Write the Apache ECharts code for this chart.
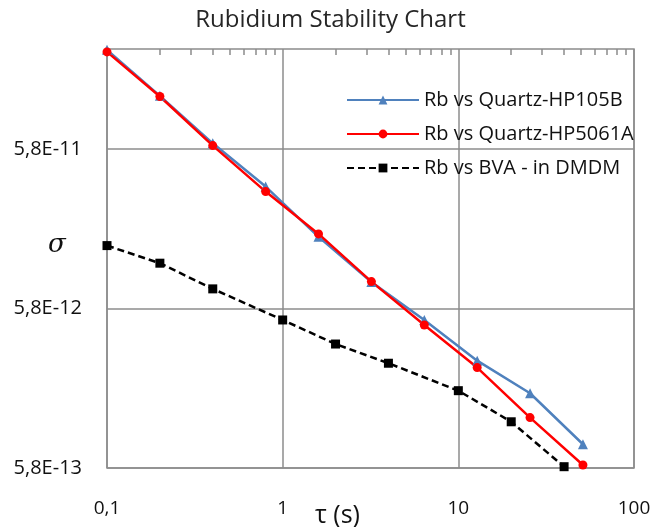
<!DOCTYPE html>
<html>
<head>
<meta charset="utf-8">
<script src="https://cdn.jsdelivr.net/npm/echarts@6/dist/echarts.min.js"></script>
<style>
  html, body { margin: 0; padding: 0; background: #fff; }
  #chart { width: 661px; height: 527px; }
</style>
</head>
<body>
<div id="chart"></div>
<script>
// tau values (s)
const tauA = [0.1, 0.2, 0.4, 0.8, 1.6, 3.2, 6.4, 12.8, 25.6, 51.2];
const tauB = [0.1, 0.2, 0.4, 1, 2, 4, 10, 20, 40];

// sigma values
const hp105b = [2.42e-10, 1.246e-10, 6.28e-11, 3.365e-11, 1.63e-11, 8.5e-12, 4.91e-12, 2.73e-12, 1.705e-12, 8.17e-13];
const hp5061a = [2.35e-10, 1.234e-10, 6.08e-11, 3.13e-11, 1.7e-11, 8.54e-12, 4.57e-12, 2.47e-12, 1.2e-12, 6.06e-13];
const bva = [1.436e-11, 1.114e-11, 7.69e-12, 4.91e-12, 3.47e-12, 2.63e-12, 1.77e-12, 1.13e-12, 5.91e-13];

const yTicks = [5.8e-13, 5.8e-12, 5.8e-11];
const seriesNames = ['Rb vs Quartz-HP105B', 'Rb vs Quartz-HP5061A', 'Rb vs BVA - in DMDM'];

// minor ticks along the top edge (2..9 in each decade)
const topTicks = [];
[0.1, 1, 10].forEach(d => { for (let k = 2; k <= 9; k++) topTicks.push(+(d * k).toFixed(2)); });

const font = 'Open Sans';
const gridColor = '#8c8c8c';

const pair = (xs, ys) => xs.map((x, i) => [x, ys[i]]);

var myChart = echarts.init(document.getElementById('chart'));
myChart.setOption({
  animation: false,
  textStyle: { fontFamily: font },
  title: {
    text: 'Rubidium Stability Chart',
    left: 'center',
    top: 3,
    textStyle: { fontFamily: font, fontSize: 24, fontWeight: 'normal', color: '#262626' }
  },
  grid: {
    left: 107, right: 27, top: 49, bottom: 59,
    show: true, borderColor: gridColor, borderWidth: 1.5
  },
  legend: {
    orient: 'vertical',
    left: 346,
    top: 88,
    padding: 0,
    itemWidth: 72,
    itemHeight: 11,
    itemGap: 10,
    textStyle: { fontFamily: font, fontSize: 20, color: '#111', lineHeight: 24 },
    data: seriesNames
  },
  xAxis: [{
    type: 'log',
    min: 0.1,
    max: 100,
    axisLine: { show: false },
    axisTick: { show: true, length: 0 },
    splitLine: { show: true, lineStyle: { color: gridColor, width: 1.5 } },
    axisLabel: {
      margin: 31,
      fontSize: 19,
      color: '#111',
      formatter: v => String(v).replace('.', ',')
    }
  }, {
    // same range as the bottom axis, carries the small ticks on the top edge
    type: 'log',
    position: 'top',
    min: 0.1,
    max: 100,
    axisLine: { show: false },
    axisLabel: { show: false },
    splitLine: { show: false },
    axisTick: {
      show: true, inside: true, length: 6,
      customValues: topTicks,
      lineStyle: { color: gridColor, width: 1.5 }
    }
  }],
  yAxis: {
    type: 'log',
    min: 5.8e-13,
    max: 2.45e-10,
    axisLine: { show: false },
    axisTick: { show: true, length: 0, customValues: yTicks },
    splitLine: { show: true, lineStyle: { color: gridColor, width: 1.5 } },
    axisLabel: {
      customValues: yTicks,
      margin: 25,
      fontSize: 20,
      color: '#111',
      formatter: v => v.toExponential(1).replace('.', ',').replace('e', 'E')
    }
  },
  graphic: [
    { type: 'text', left: 48, top: 232,
      style: { text: 'σ', font: 'italic 26px "DejaVu Serif"', fill: '#111' } },
    { type: 'text', left: 315, top: 503,
      style: { text: 'τ (s)', font: '25px "Open Sans"', fill: '#111' } }
  ],
  series: [{
    name: seriesNames[0],
    type: 'line',
    data: pair(tauA, hp105b),
    symbol: 'triangle',
    symbolSize: 10,
    clip: false,
    color: '#4f81bd',
    lineStyle: { width: 2.5, color: '#4f81bd' },
    itemStyle: { color: '#4f81bd' }
  }, {
    name: seriesNames[1],
    type: 'line',
    data: pair(tauA, hp5061a),
    symbol: 'circle',
    symbolSize: 9,
    clip: false,
    color: '#ff0000',
    lineStyle: { width: 2.5, color: '#ff0000' },
    itemStyle: { color: '#ff0000' }
  }, {
    name: seriesNames[2],
    type: 'line',
    xAxisIndex: 1,
    data: pair(tauB, bva),
    symbol: 'rect',
    symbolSize: 9,
    clip: false,
    color: '#000',
    lineStyle: { width: 2.5, type: [7, 4], color: '#000' },
    itemStyle: { color: '#000' }
  }]
});
</script>
</body>
</html>
